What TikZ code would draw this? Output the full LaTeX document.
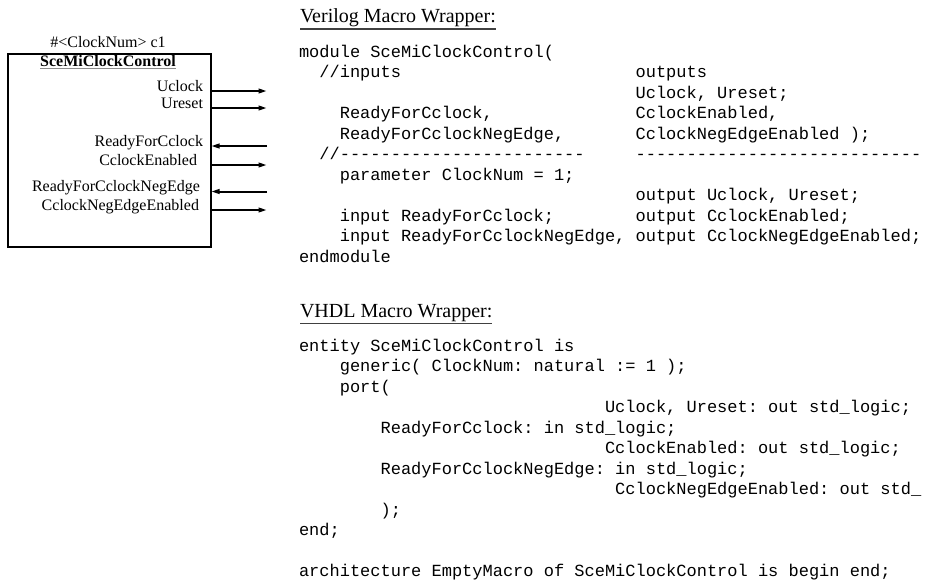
\documentclass[tikz,border=0pt]{standalone}
\usepackage{fontspec}
\setmainfont{Liberation Serif}
\setmonofont{Liberation Mono}
\usetikzlibrary{arrows.meta}
\begin{document}
\begin{tikzpicture}[x=1pt,y=-1pt,inner sep=0pt,outer sep=0pt,
  lbl/.style={anchor=base east,font=\fontsize{16}{19}\selectfont},
  code/.style={anchor=base west,font=\ttfamily\fontsize{17}{20}\selectfont},
  head/.style={anchor=base west,font=\fontsize{20}{24}\selectfont},
  sig/.style={line width=2pt,-{Triangle[length=8.5pt,width=4.5pt]}},
  rule/.style={draw=black!75,line width=1.3pt}]
\useasboundingbox (0,0) rectangle (926,579);
\clip (0,0) rectangle (926,579);
% block symbol
\node[draw,line width=2pt,minimum width=203.5pt,minimum height=193pt] (ctrl) at (109.25,150.5) {};
\node[anchor=base,font=\fontsize{16}{19}\selectfont] (inst) at (108,47) {\#<ClockNum> c1};
\node[anchor=base,font=\bfseries\fontsize{16}{19}\selectfont] (name) at (108,66) {SceMiClockControl};
\draw[black!45,line width=0.8pt] ([yshift=-2.5pt]name.base west) -- ([yshift=-2.5pt]name.base east);
\node[lbl] (uclk) at (203,91) {Uclock};
\node[lbl] (urst) at (203,108) {Ureset};
\node[lbl] (rdy) at (203,146) {ReadyForCclock};
\node[lbl] (cen) at (197,165) {CclockEnabled};
\node[lbl] (rdyneg) at (200,191.5) {ReadyForCclockNegEdge};
\node[lbl] (cneg) at (199,210) {CclockNegEdgeEnabled};
\coordinate (uclk-o) at (267,91);
\coordinate (urst-o) at (267,108);
\coordinate (rdy-o) at (267,146);
\coordinate (cen-o) at (267,165);
\coordinate (rdyneg-o) at (267,191.5);
\coordinate (cneg-o) at (267,210);
\draw[sig] (ctrl.east |- uclk.base) -- (uclk-o);
\draw[sig] (ctrl.east |- urst.base) -- (urst-o);
\draw[sig] (rdy-o) -- (ctrl.east |- rdy.base);
\draw[sig] (ctrl.east |- cen.base) -- (cen-o);
\draw[sig] (rdyneg-o) -- (ctrl.east |- rdyneg.base);
\draw[sig] (ctrl.east |- cneg.base) -- (cneg-o);
% Verilog
\node[head] (vlog) at (300,22.5) {Verilog Macro Wrapper:};
\draw[rule] ([yshift=-6.5pt]vlog.base west) -- ([yshift=-6.5pt]vlog.base east);
\node[code] (v0) at (299,57) {module SceMiClockControl(};
\node[code] (v1a) at (319.4,77.5) {//inputs};
\node[code] (v1b) at (635.6,77.5) {outputs};
\node[code] (v2b) at (635.6,98) {Uclock, Ureset;};
\node[code] (v3a) at (339.8,118.5) {ReadyForCclock,};
\node[code] (v3b) at (635.6,118.5) {CclockEnabled,};
\node[code] (v4a) at (339.8,139) {ReadyForCclockNegEdge,};
\node[code] (v4b) at (635.6,139) {CclockNegEdgeEnabled );};
\node[code] (v5a) at (319.4,159.5) {//------------------------};
\node[code] (v5b) at (635.6,159.5) {----------------------------};
\node[code] (v6a) at (339.8,180) {parameter ClockNum = 1;};
\node[code] (v7b) at (635.6,200.5) {output Uclock, Ureset;};
\node[code] (v8a) at (339.8,221) {input ReadyForCclock;};
\node[code] (v8b) at (635.6,221) {output CclockEnabled;};
\node[code] (v9a) at (339.8,241.5) {input ReadyForCclockNegEdge,};
\node[code] (v9b) at (635.6,241.5) {output CclockNegEdgeEnabled;};
\node[code] (v10) at (299,262) {endmodule};
% VHDL
\node[head] (vhdl) at (300,317) {VHDL Macro Wrapper:};
\draw[rule] ([yshift=-6.5pt]vhdl.base west) -- ([yshift=-6.5pt]vhdl.base east);
\node[code] (h0) at (299,351) {entity SceMiClockControl is};
\node[code] (h1) at (339.8,371.5) {generic( ClockNum: natural := 1 );};
\node[code] (h2) at (339.8,392) {port(};
\node[code] (h3) at (605,412.5) {Uclock, Ureset: out std\_logic;};
\node[code] (h4) at (380.6,433) {ReadyForCclock: in std\_logic;};
\node[code] (h5) at (605,453.5) {CclockEnabled: out std\_logic;};
\node[code] (h6) at (380.6,474) {ReadyForCclockNegEdge: in std\_logic;};
\node[code] (h7) at (615.2,494.5) {CclockNegEdgeEnabled: out std\_};
\node[code] (h8) at (380.6,515) {);};
\node[code] (h9) at (299,535.5) {end;};
\node[code] (h11) at (299,576.5) {architecture EmptyMacro of SceMiClockControl is begin end;};
\end{tikzpicture}
\end{document}
